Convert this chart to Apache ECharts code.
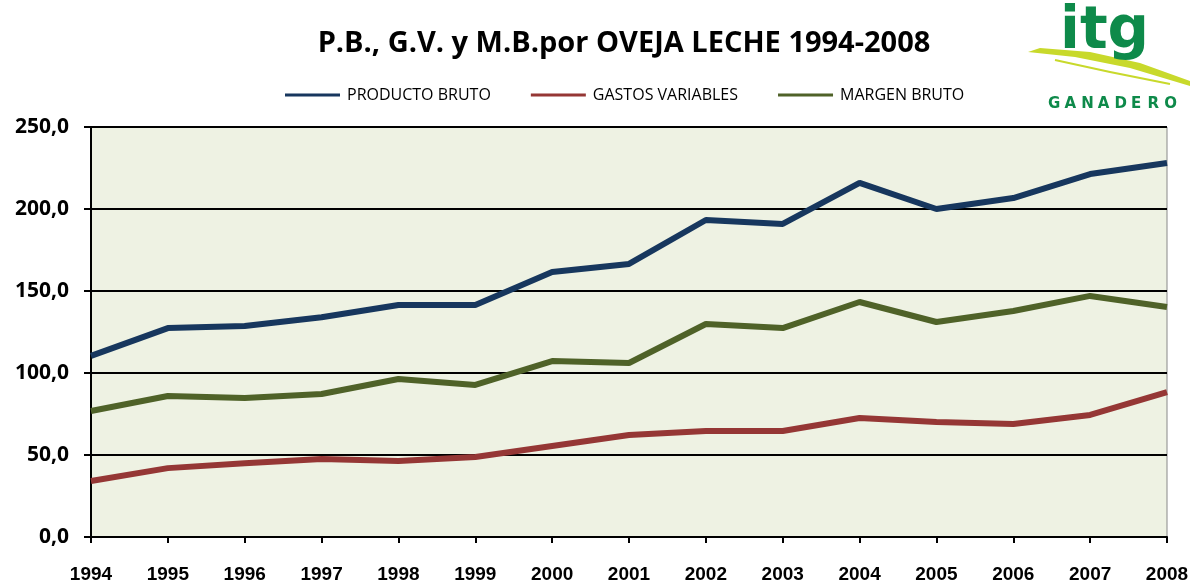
<!DOCTYPE html>
<html><head><meta charset="utf-8">
<script src="https://cdn.jsdelivr.net/npm/echarts@6/dist/echarts.min.js"></script>
<style>html,body{margin:0;padding:0;background:#fff}#c{width:1195px;height:586px}</style>
</head><body><div id="c"></div>
<script>
const years = ['1994','1995','1996','1997','1998','1999','2000','2001','2002','2003','2004','2005','2006','2007','2008'];
const productoBruto = [110.4,127.4,128.7,134.0,141.5,141.5,161.6,166.5,193.3,190.9,215.9,200.0,206.7,221.3,228.0];
const gastosVariables = [34.1,42.0,45.0,47.6,46.3,48.8,55.5,62.2,64.6,64.6,72.6,70.1,68.9,74.4,88.4];
const margenBruto = [76.8,86.0,84.8,87.2,96.3,92.7,107.3,106.1,129.9,127.4,143.3,131.1,137.8,147.0,140.2];
const seriesNames = ['PRODUCTO BRUTO','GASTOS VARIABLES','MARGEN BRUTO'];
const colors = ['#17375E','#953735','#4F6228'];
const logoLetters = ['G','A','N','A','D','E','R','O'];

const chart = echarts.init(document.getElementById('c'));
const font = "'Liberation Sans Narrow','Liberation Sans',sans-serif";
const sans = "'Open Sans','Liberation Sans',sans-serif";
const logoFont = "'DejaVu Sans','Liberation Sans',sans-serif";
chart.setOption({
  animation:false,
  title:{text:'P.B., G.V. y M.B.por OVEJA LECHE 1994-2008',left:619,textAlign:'center',top:24,
    textStyle:{fontFamily:sans,fontWeight:'bold',fontSize:29,color:'#000'}},
  legend:{top:82,left:280,itemWidth:55,itemHeight:3,itemGap:40,icon:'rect',
    textStyle:{fontFamily:sans,fontSize:16,color:'#000',padding:[0,0,0,2]},
    data:seriesNames},
  grid:{left:91,right:28,top:127,bottom:49,show:true,backgroundColor:'#EEF2E3',borderColor:'#888',borderWidth:1},
  xAxis:{type:'category',data:years,boundaryGap:false,
    axisLine:{lineStyle:{color:'#000',width:2}},
    axisTick:{show:true,alignWithLabel:true,length:6,lineStyle:{color:'#000',width:2}},
    axisLabel:{margin:28,fontFamily:font,fontWeight:'bold',fontSize:19,color:'#000'},
    splitLine:{show:false}},
  yAxis:{type:'value',min:0,max:250,interval:50,
    axisLine:{show:true,lineStyle:{color:'#000',width:2}},
    axisTick:{show:true,length:7,lineStyle:{color:'#000',width:2}},
    axisLabel:{margin:22,fontFamily:sans,fontWeight:'bold',fontSize:21,color:'#000',
      formatter:v=>v.toFixed(1).replace('.',',')},
    splitLine:{lineStyle:{color:'#000',width:2}}},
  series:[
    {name:seriesNames[0],type:'line',data:productoBruto,symbol:'none',lineStyle:{width:6,color:colors[0]},itemStyle:{color:colors[0]}},
    {name:seriesNames[1],type:'line',data:gastosVariables,symbol:'none',lineStyle:{width:6,color:colors[1]},itemStyle:{color:colors[1]}},
    {name:seriesNames[2],type:'line',data:margenBruto,symbol:'none',lineStyle:{width:6,color:colors[2]},itemStyle:{color:colors[2]}}
  ],
  graphic:[
    {type:'polygon',z:1,shape:{points:[[1028,52],[1075,57],[1130,68],[1190,86],[1190,81],[1140,63],[1090,52],[1040,48]]},style:{fill:'#C8D92B'}},
    {type:'polyline',z:1,shape:{points:[[1055,60],[1110,72],[1170,84]]},style:{stroke:'#C8D92B',lineWidth:2,fill:null}},
    {type:'text',z:2,left:1060,top:4,style:{text:'itg',fontFamily:logoFont,fontWeight:'bold',fontSize:58,fill:'#0E8A4A'}}
  ].concat(logoLetters.map((ch,i)=>({type:'text',z:2,left:1048+i*16.6,top:97,
    style:{text:ch,fontFamily:logoFont,fontWeight:'bold',fontSize:15,fill:'#0E8A4A'}})))
});
</script></body></html>
